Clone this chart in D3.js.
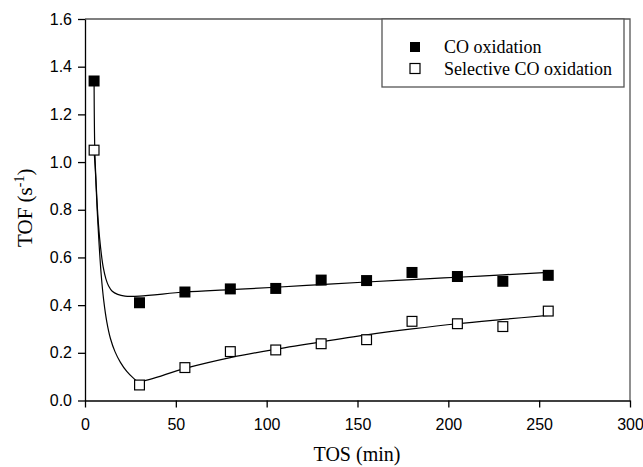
<!DOCTYPE html>
<html>
<head>
<meta charset="utf-8">
<script src="https://cdn.jsdelivr.net/npm/d3@7"></script>
<style>
  body { margin: 0; background: #fff; }
  svg { display: block; font-family: "Liberation Serif", "Times New Roman", serif; }
  .tick text { font-size: 16px; fill: #000; }
  .tick line, .domain { stroke: #000; }
</style>
</head>
<body>
<script>
// measured data (time on stream, min)
const tos = [5, 30, 55, 80, 105, 130, 155, 180, 205, 230, 255];
const coOx = [1.34, 0.41, 0.455, 0.468, 0.47, 0.505, 0.503, 0.537, 0.52, 0.50, 0.525];
const selOx = [1.05, 0.065, 0.138, 0.205, 0.212, 0.238, 0.255, 0.332, 0.322, 0.31, 0.375];

// fitted curves
const coFitX = [5, 5.4, 6.2, 7.3, 8.6, 10, 11.5, 13, 15, 18, 22, 30, 55, 80, 105, 130, 155, 180, 205, 230, 255];
const coFitY = [1.34, 1.05, 0.9, 0.75, 0.64, 0.56, 0.51, 0.48, 0.458, 0.445, 0.438, 0.438, 0.455, 0.465, 0.475, 0.486, 0.497, 0.507, 0.517, 0.527, 0.537];
const selFitX = [5, 5.8, 6.7, 7.8, 9, 10.3, 12, 14, 16.5, 19.5, 23, 26.5, 29.4, 55, 80, 105, 130, 155, 180, 205, 230, 255];
const selFitY = [1.05, 0.95, 0.8, 0.65, 0.52, 0.42, 0.33, 0.26, 0.205, 0.16, 0.122, 0.095, 0.08, 0.135, 0.18, 0.215, 0.246, 0.275, 0.30, 0.322, 0.34, 0.357];

const xTicks = [0, 50, 100, 150, 200, 250, 300];
const yTicks = [0, 0.2, 0.4, 0.6, 0.8, 1.0, 1.2, 1.4, 1.6];
const legendLabels = ["CO oxidation", "Selective CO oxidation"];

const W = 643, H = 467;
const margin = {top: 19, right: 13, bottom: 66.5, left: 85};
const width = W - margin.left - margin.right,
    height = H - margin.top - margin.bottom;

const svg = d3.select('body').append('svg')
    .attr('width', W)
    .attr('height', H);
const g = svg.append('g')
    .attr('transform', 'translate(' + margin.left + ',' + margin.top + ')');

const x = d3.scaleLinear().domain([0, 300]).range([0, width]);
const y = d3.scaleLinear().domain([0, 1.6]).range([height, 0]);

// frame (top and right)
g.append('path')
    .attr('d', 'M0,0H' + width + 'V' + height)
    .attr('fill', 'none')
    .attr('stroke', '#555')
    .attr('stroke-width', 1.3);

// axes
g.append('g')
    .attr('transform', 'translate(0,' + height + ')')
    .call(d3.axisBottom(x).tickValues(xTicks).tickSize(7).tickPadding(11).tickSizeOuter(0))
    .call(a => a.selectAll('line, path').attr('stroke-width', 1.3));
g.append('g')
    .call(d3.axisLeft(y).tickValues(yTicks).tickSize(7).tickPadding(6).tickSizeOuter(0).tickFormat(d3.format('.1f')))
    .call(a => a.selectAll('line, path').attr('stroke-width', 1.3));

// fitted curves
const line = d3.line()
    .x(d => x(d[0]))
    .y(d => y(d[1]))
    .curve(d3.curveCatmullRom.alpha(0.5));
[[coFitX, coFitY], [selFitX, selFitY]].forEach(([xs, ys]) => {
    g.append('path')
        .datum(xs.map((v, i) => [v, ys[i]]))
        .attr('d', line)
        .attr('fill', 'none')
        .attr('stroke', '#000')
        .attr('stroke-width', 1.2);
});

// markers
const s = 11;
g.selectAll('rect.co')
    .data(tos.map((v, i) => [v, coOx[i]]))
    .enter().append('rect')
    .attr('x', d => x(d[0]) - s / 2)
    .attr('y', d => y(d[1]) - s / 2)
    .attr('width', s).attr('height', s)
    .attr('fill', '#000');
g.selectAll('rect.sel')
    .data(tos.map((v, i) => [v, selOx[i]]))
    .enter().append('rect')
    .attr('x', d => x(d[0]) - s / 2 + 0.6)
    .attr('y', d => y(d[1]) - s / 2 + 0.6)
    .attr('width', s - 1.2).attr('height', s - 1.2)
    .attr('fill', '#fff')
    .attr('stroke', '#000')
    .attr('stroke-width', 1.2);

// legend
const lg = svg.append('g').attr('transform', 'translate(382,19)');
lg.append('rect')
    .attr('width', 242).attr('height', 68)
    .attr('fill', '#fff')
    .attr('stroke', '#555')
    .attr('stroke-width', 1.3);
legendLabels.forEach((t, i) => {
    const cy = 28 + i * 21.5;
    lg.append('rect')
        .attr('x', 33 - 5).attr('y', cy - 5)
        .attr('width', 10).attr('height', 10)
        .attr('fill', i === 0 ? '#000' : '#fff')
        .attr('stroke', '#000')
        .attr('stroke-width', i === 0 ? 0 : 1.2);
    lg.append('text')
        .attr('x', 62).attr('y', cy + 6)
        .attr('font-size', 18)
        .text(t);
});

// axis titles
svg.append('text')
    .attr('x', 357)
    .attr('y', 461)
    .attr('text-anchor', 'middle')
    .attr('font-size', 20)
    .text('TOS (min)');
const yl = svg.append('text')
    .attr('transform', 'translate(32,' + (margin.top + y(0.8) - 2) + ') rotate(-90)')
    .attr('text-anchor', 'middle')
    .attr('font-size', 21);
yl.append('tspan').text('TOF (s');
yl.append('tspan').attr('font-size', 14).attr('dy', -8).text('-1');
yl.append('tspan').attr('dy', 8).text(')');
</script>
</body>
</html>
